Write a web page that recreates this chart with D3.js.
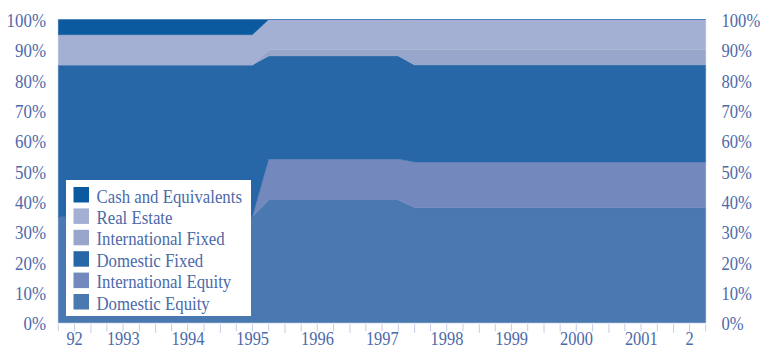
<!DOCTYPE html>
<html>
<head>
<meta charset="utf-8">
<script src="https://cdn.jsdelivr.net/npm/d3@7"></script>
<style>
  html, body { margin: 0; padding: 0; background: #ffffff; }
  svg { display: block; }
  text { font-family: "Liberation Serif", "Times New Roman", serif; }
</style>
</head>
<body>
<svg id="chart" width="760" height="349"></svg>
<script>
// Asset allocation over time (percent of portfolio), at the dates where it changes
const dates = ["1992-07-01", "1995-07-01", "1995-10-01", "1997-10-01", "1998-01-01", "2002-07-01"];
const domesticEquity      = [35, 35, 40.5, 40.5, 38, 38];
const internationalEquity = [0, 0, 13.5, 13.5, 15, 15];
const domesticFixed       = [50, 50, 34, 34, 32, 32];
const internationalFixed  = [0, 0, 2, 2, 5, 5];
const realEstate          = [10, 10, 10, 10, 10, 10];
const cashEquivalents     = [5, 5, 0, 0, 0, 0];

// Series names, bottom of the stack first
const seriesNames = ["Domestic Equity", "International Equity", "Domestic Fixed",
                     "International Fixed", "Real Estate", "Cash and Equivalents"];
const seriesValues = [domesticEquity, internationalEquity, domesticFixed,
                      internationalFixed, realEstate, cashEquivalents];
const seriesColors = ["#4a78b1", "#7388bd", "#2767a7", "#99a6cb", "#a3b0d3", "#0b5a9f"];

// Axis labels
const yTickValues = [0, 10, 20, 30, 40, 50, 60, 70, 80, 90, 100];
const xYears  = [1992, 1993, 1994, 1995, 1996, 1997, 1998, 1999, 2000, 2001, 2002];
const xLabels = ["92", "1993", "1994", "1995", "1996", "1997", "1998", "1999", "2000", "2001", "2"];

const W = 760, H = 349;
const plot = { left: 58.3, right: 705.7, top: 19.5, bottom: 322.8 };
const textColor = "#4c69aa";
const tickColor = "#c3cce5";
const textStretch = 1.1;

const parse = d3.timeParse("%Y-%m-%d");
const rows = dates.map((d, i) => {
  const r = { date: parse(d) };
  seriesNames.forEach((n, k) => { r[n] = seriesValues[k][i]; });
  return r;
});

const x = d3.scaleTime()
  .domain([rows[0].date, rows[rows.length - 1].date])
  .range([plot.left, plot.right]);
const y = d3.scaleLinear().domain([0, 100]).range([plot.bottom, plot.top]);

const svg = d3.select("#chart");

// Stacked areas
const stacked = d3.stack().keys(seriesNames)(rows);
const area = d3.area()
  .x(d => x(d.data.date))
  .y0(d => y(d[0]))
  .y1(d => y(d[1]))
  .curve(d3.curveLinear);

svg.append("g").selectAll("path")
  .data(stacked)
  .join("path")
  .attr("d", area)
  .attr("fill", (d, i) => seriesColors[i])
  .attr("stroke", (d, i) => seriesColors[i])
  .attr("stroke-width", 0.4);

// Stretched serif text helper
function label(g, px, py, str, anchor, size) {
  return g.append("text")
    .attr("transform", `translate(${px},${py}) scale(1,${textStretch})`)
    .attr("text-anchor", anchor)
    .attr("fill", textColor)
    .attr("font-size", size)
    .text(str);
}

// Y axes on both sides
const yAxes = svg.append("g");
yTickValues.forEach(v => {
  const py = y(v) + 7.5;
  label(yAxes, 46, py, v + "%", "end", 16.9);
  label(yAxes, 721.5, py, v + "%", "start", 16.6);
});

// X axis: quarterly ticks, year labels centred in each year span
const xAxis = svg.append("g");
const [d0, d1] = x.domain();
const quarterTicks = d3.timeMonth.every(3).range(d0, d3.timeDay.offset(d1, 1));
xAxis.selectAll("line")
  .data(quarterTicks)
  .join("line")
  .attr("x1", d => x(d)).attr("x2", d => x(d))
  .attr("y1", plot.bottom + 1.5)
  .attr("y2", d => plot.bottom + (d.getMonth() === 0 ? 10 : 8.5))
  .attr("stroke", tickColor)
  .attr("stroke-width", 1);

xYears.forEach((yr, i) => {
  const a = new Date(Math.max(+new Date(yr, 0, 1), +d0));
  const b = new Date(Math.min(+new Date(yr + 1, 0, 1), +d1));
  label(xAxis, (x(a) + x(b)) / 2, 345, xLabels[i], "middle", 16.4);
});

// Legend, top entry first
const legend = svg.append("g");
const lg = { x: 66, y: 180, w: 185, h: 136, row: 21.4 };
legend.append("rect")
  .attr("x", lg.x).attr("y", lg.y)
  .attr("width", lg.w).attr("height", lg.h)
  .attr("fill", "#ffffff");
const legendOrder = d3.range(seriesNames.length).reverse();
legendOrder.forEach((k, j) => {
  legend.append("rect")
    .attr("x", lg.x + 7.5).attr("y", lg.y + 7 + j * lg.row)
    .attr("width", 15.5).attr("height", 15.5)
    .attr("fill", seriesColors[k]);
  label(legend, lg.x + 30.5, lg.y + 22.5 + j * lg.row, seriesNames[k], "start", 16.8);
});
</script>
</body>
</html>
